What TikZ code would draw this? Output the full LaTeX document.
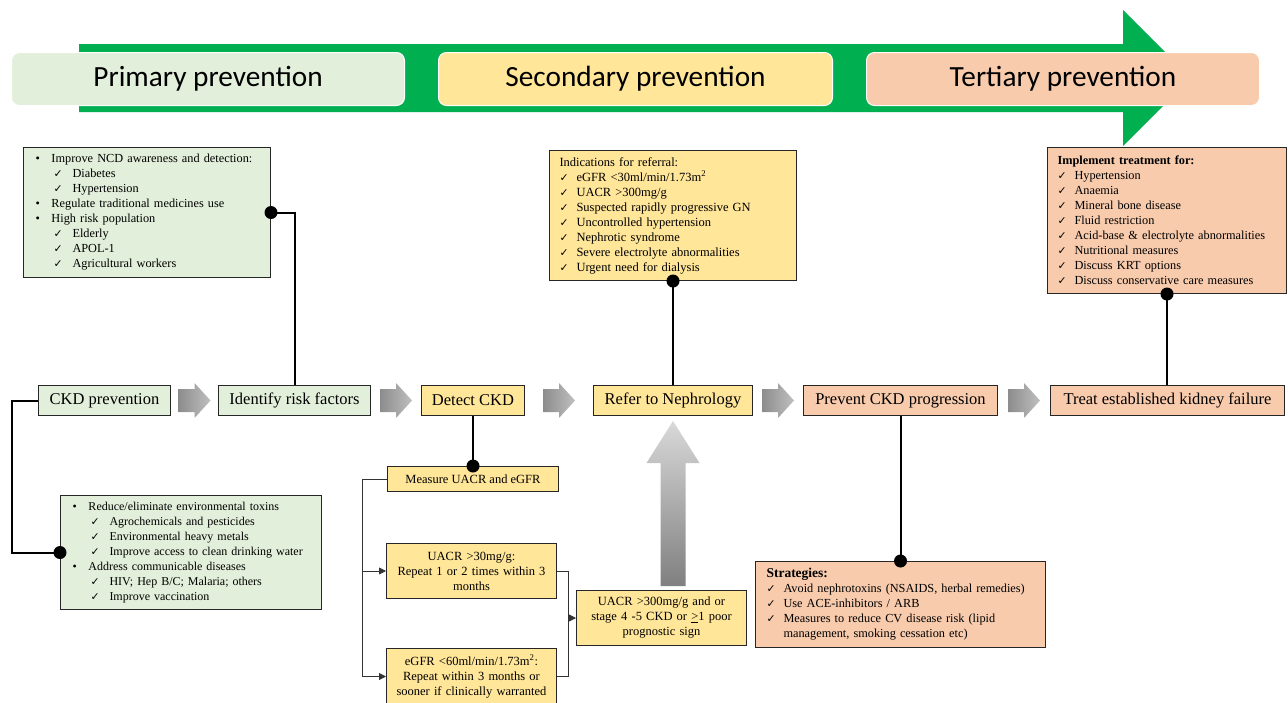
\documentclass[tikz,border=0pt]{standalone}
\usepackage{fontspec}
\setmainfont{Liberation Serif}
\newfontfamily\calib{Carlito}
\newfontfamily\symb{DejaVu Sans}
\usetikzlibrary{positioning,calc,arrows.meta}

\definecolor{primfill}{HTML}{E2EFDA}
\definecolor{secfill}{HTML}{FFE699}
\definecolor{tertfill}{HTML}{F8CBAD}
\definecolor{bandgreen}{HTML}{00B050}

\newcommand\lstfont{\fontsize{12.3}{15}\selectfont}
\newcommand\bul{\makebox[16pt][l]{•}}
\newcommand\chk{\makebox[17pt][l]{\symb\fontsize{10.8}{15}\selectfont ✓}}
\newcommand\subchk{\hspace*{18pt}\makebox[19pt][l]{\symb\fontsize{10.8}{15}\selectfont ✓}}

\begin{document}
\begin{tikzpicture}[x=1pt,y=-1pt,
  stepbox/.style={draw=black!85, line width=1pt, minimum height=30pt, inner sep=0pt, anchor=north west, font=\fontsize{16.5}{18}\selectfont},
  lstbox/.style={draw=black!85, line width=1pt, anchor=north west, align=left, inner ysep=0pt, font=\lstfont},
  midbox/.style={draw=black!85, line width=1pt, anchor=north west, align=center, inner sep=0pt, font=\fontsize{12.5}{15}\selectfont, fill=secfill},
  phase/.style={rounded corners=8pt, draw=white, line width=1pt, minimum height=53pt, anchor=north west, font=\calib\fontsize{29.3}{32}\selectfont},
  flowshade/.style={left color=black!45, right color=black!25},
  link/.style={line width=2pt, black},
  branch/.style={line width=0.8pt, black!80, -{Triangle[length=7pt,width=7pt]}}]
\useasboundingbox (0,0) rectangle (1288,702);

% prevention band
\fill[bandgreen] (79,44) -- (1123,44) -- (1123,10) -- (1191,78) -- (1123,146) -- (1123,112) -- (79,112) -- cycle;
\node[phase, fill=primfill, minimum width=393pt] (prim) at (11,52) {Primary prevention};
\node[phase, fill=secfill, minimum width=394pt] (sec) at (438,52) {Secondary prevention};
\node[phase, fill=tertfill, minimum width=393pt] (tert) at (866,52) {Tertiary prevention};

% main steps
\node[stepbox, fill=primfill, minimum width=132pt] (ckd) at (38,385) {CKD prevention};
\node[stepbox, fill=primfill, minimum width=152pt] (risk) at (218,385) {Identify risk factors};
\node[stepbox, fill=secfill, minimum width=103pt] (detect) at (421,385) {Detect CKD};
\node[stepbox, fill=secfill, minimum width=159pt] (refer) at (593,385) {Refer to Nephrology};
\node[stepbox, fill=tertfill, minimum width=194pt] (prevent) at (803,385) {Prevent CKD progression};
\node[stepbox, fill=tertfill, minimum width=234pt] (treat) at (1050,385) {Treat established kidney failure};
\foreach \a/\b in {ckd/risk,risk/detect,detect/refer,refer/prevent,prevent/treat}{
  \coordinate (m) at ($(\a.east)!0.5!(\b.west)$);
  \shade[flowshade] ($(m)+(-16,-11.5)$) -- ++(16,0) -- ++(0,-6) -- ++(16,17.5) -- ++(-16,17.5) -- ++(0,-6) -- ++(-16,0) -- cycle;
}

% lists
\node[lstbox, fill=primfill, inner xsep=12pt, text width=223pt, minimum height=130pt] (riskl) at (23,147) {%
\bul Improve NCD awareness and detection:\\
\subchk Diabetes\\
\subchk Hypertension\\
\bul Regulate traditional medicines use\\
\bul High risk population\\
\subchk Elderly\\
\subchk APOL-1\\
\subchk Agricultural workers};
\node[lstbox, fill=primfill, inner xsep=12pt, text width=237pt, minimum height=114pt, font=\fontsize{12}{15}\selectfont] (env) at (60,495) {%
\bul Reduce/eliminate environmental toxins\\
\subchk Agrochemicals and pesticides\\
\subchk Environmental heavy metals\\
\subchk Improve access to clean drinking water\\
\bul Address communicable diseases\\
\subchk HIV; Hep B/C; Malaria; others\\
\subchk Improve vaccination};
\node[lstbox, fill=secfill, inner xsep=10pt, text width=227pt, minimum height=130pt, font=\fontsize{12.5}{15}\selectfont] (refl) at (549,150) {%
Indications for referral:\\
\chk eGFR <30ml/min/1.73m\textsuperscript{2}\\
\chk UACR >300mg/g\\
\chk Suspected rapidly progressive GN\\
\chk Uncontrolled hypertension\\
\chk Nephrotic syndrome\\
\chk Severe electrolyte abnormalities\\
\chk Urgent need for dialysis};
\node[lstbox, fill=tertfill, inner xsep=10pt, text width=219pt, minimum height=146pt] (treatl) at (1047,147) {%
\textbf{Implement treatment for:}\\
\chk Hypertension\\
\chk Anaemia\\
\chk Mineral bone disease\\
\chk Fluid restriction\\
\chk Acid-base \& electrolyte abnormalities\\
\chk Nutritional measures\\
\chk Discuss KRT options\\
\chk Discuss conservative care measures};
\node[lstbox, fill=tertfill, inner xsep=11pt, text width=268pt, minimum height=86pt] (strat) at (755,561) {%
{\fontsize{13.5}{15}\selectfont\textbf{Strategies:}}\\
\chk Avoid nephrotoxins (NSAIDS, herbal remedies)\\
\chk Use ACE-inhibitors / ARB\\
\chk Measures to reduce CV disease risk (lipid\\
\hspace*{17pt}management, smoking cessation etc)};

% detection steps
\node[midbox, minimum width=171pt, minimum height=25pt] (measure) at (387,466) {Measure UACR and eGFR};
\node[midbox, text width=170pt, minimum height=55pt] (u30) at (386,543) {UACR >30mg/g:\\Repeat 1 or 2 times within 3\\months};
\node[midbox, text width=170pt, minimum height=56pt] (eg) at (386,648) {eGFR <60ml/min/1.73m\textsuperscript{2}:\\Repeat within 3 months or\\sooner if clinically warranted};
\node[midbox, text width=170pt, minimum height=55pt] (u300) at (576,590) {UACR >300mg/g and or\\stage 4 -5 CKD or \underline{>}1 poor\\prognostic sign};

% big arrow up to referral
\coordinate (uptip) at ($(refer.south)+(0,5)$);
\coordinate (upfoot) at ($(uptip)+(0,165)$);
\shade[top color=black!15, bottom color=black!50] ($(upfoot)+(-12.5,0)$) -- ($(uptip)+(-12.5,42)$) -- ($(uptip)+(-26.5,42)$) -- (uptip)
  -- ($(uptip)+(26.5,42)$) -- ($(uptip)+(12.5,42)$) -- ($(upfoot)+(12.5,0)$) -- cycle;

% connectors
\draw[link] (riskl.east) -| (risk.north);
\fill (riskl.east) circle (6.5pt);
\draw[link] (ckd.west) -- ++(-26,0) |- (env.west);
\fill (env.west) circle (6.5pt);
\draw[link] (detect.south) -- (measure.north);
\fill (measure.north) circle (6.5pt);
\draw[link] (refl.south) -- (refer.north);
\fill (refl.south) circle (6.5pt);
\draw[link] (prevent.south) -- (strat.north);
\fill (strat.north) circle (6.5pt);
\draw[link] (treatl.south) -- (treatl.south |- treat.north);
\fill (treatl.south) circle (6.5pt);

\coordinate (split) at ($(measure.west)+(-25,0)$);
\draw[line width=0.8pt, black!80] (measure.west) -- (split);
\draw[branch] (split) |- (u30.west);
\draw[branch] (split) |- (eg.west);
\coordinate (merge) at ($(u30.east)+(11,0)$);
\draw[line width=0.8pt, black!80] (u30.east) -- (merge) |- (eg.east);
\draw[branch] (merge |- u300.west) -- (u300.west);
\end{tikzpicture}
\end{document}
